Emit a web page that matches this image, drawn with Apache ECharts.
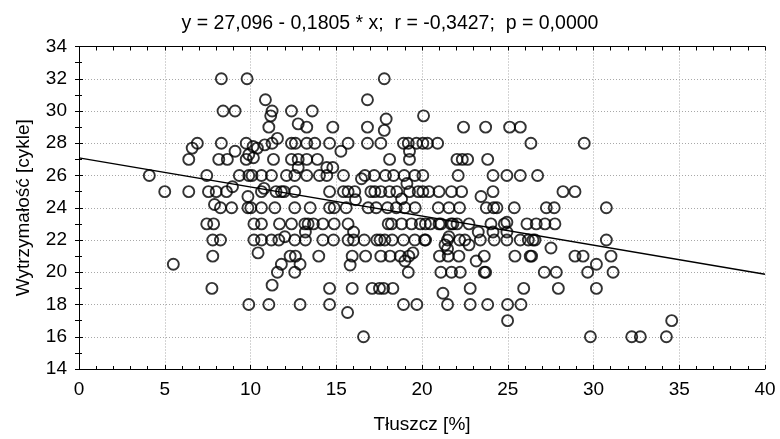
<!DOCTYPE html>
<html>
<head>
<meta charset="utf-8">
<script src="https://cdn.jsdelivr.net/npm/echarts@6/dist/echarts.min.js"></script>
<style>html,body{margin:0;padding:0;background:#fff}#c{width:780px;height:439px}</style>
</head>
<body>
<div id="c"></div>
<script>
// Tłuszcz [%] (x) and Wytrzymałość [cykle] (y)
const fatPct = [
8.3,9.8,8.4,9.1,6.9,6.6,6.4,8.3,9.75,9.1,8.15,8.65,9.75,9.9,4.1,7.45,9.35,9.9,5.0,6.4,7.55,8.0,8.6,8.95,9.85,7.9,8.25,8.9,9.85,7.45,7.85,7.8,8.25,7.8,5.5,7.75,9.9,
17.8,10.87,16.82,11.26,11.18,12.39,13.6,17.91,12.78,11.07,13.28,14.8,16.82,17.8,
10.15,10.4,10.83,11.26,11.57,12.39,12.62,13.28,13.75,14.61,15.27,15.69,16.82,17.6,18.92,19.2,19.68,20.05,20.32,20.91,
10.17,11.34,12.39,12.78,13.28,13.9,12.78,14.45,14.8,18.11,19.27,19.27,
10.09,10.64,11.22,12.1,12.58,13.28,14.02,14.45,15.42,16.47,16.67,17.21,17.87,18.34,18.96,19.58,19.12,
10.64,10.79,11.49,11.8,11.96,12.58,14.61,15.42,15.69,16.08,16.12,17.02,17.25,17.6,18.11,18.53,18.81,19.27,19.78,
10.02,10.64,11.42,12.58,13.48,14.61,14.88,15.58,16.86,17.33,17.99,18.5,19.0,19.6,
20.09,22.42,23.71,25.11,25.73,26.35,29.46,22.04,22.35,22.66,23.83,
20.05,22.11,24.14,24.95,25.73,26.74,
20.05,20.4,20.99,21.72,22.31,23.44,24.14,28.22,28.92,
20.95,21.57,22.19,23.75,24.18,24.37,25.38,27.25,27.71,
10.2,10.64,11.69,12.39,13.17,13.36,13.67,14.22,14.88,15.69,18.03,18.22,18.81,19.39,19.9,
13.2,16.01,
10.2,10.64,11.22,11.65,12.0,12.58,13.2,14.22,14.84,15.69,16.01,16.63,17.37,17.56,17.83,18.26,18.92,19.58,20.15,
10.44,
12.31,12.62,13.98,15.93,16.71,17.6,18.14,18.73,19.23,19.47,
11.8,12.89,15.81,19.0,11.57,12.58,19.2,11.26,
14.61,15.93,17.09,17.52,17.76,18.3,
11.07,12.89,14.61,18.92,19.7,
15.66,16.59,
20.2,20.48,20.99,21.1,21.69,21.8,22.04,22.74,24.02,24.8,24.95,26.12,26.66,27.17,27.75,
23.28,24.14,24.95,
20.21,21.49,21.57,22.19,22.5,22.74,23.4,24.21,24.95,25.73,26.2,26.47,26.59,
27.52,21.34,21.49,
21.02,21.53,22.15,23.16,23.63,25.42,26.31,26.39,28.92,29.39,
21.1,21.72,22.23,23.63,23.71,27.13,27.83,29.66,
21.22,22.81,25.93,27.95,
21.49,22.81,23.83,24.99,25.77,
24.99,
30.75,30.75,31.02,30.17,31.14,30.17,34.56,29.82,32.23,32.73,34.25
];
const cycles = [
32,32,30,30,28,27.7,27,28,28,27.5,27,27,27,27.3,26,26,26,26,25,25,25,25,25,25.3,24.7,24.2,24,24,24,23,23,22,22,21,20.5,19,18,
32,30.7,30.7,30,29.7,30,30,29.5,29.2,29,29,29,29,28.8,
27.8,27.7,27.9,28,28.3,28,28,28,28,28,27.5,28,28,28,28,28,28,28,28,28,
27.1,27,27,27,27,27,26.5,26.5,26.5,27,27.5,27,
26,26,26,26,26,26,26,26,26,25.8,26,26,26,26,26,26,25.5,
25,25.2,25,25,25,25,25,25,25,25,24.5,25,25,25,25,25,24.55,25,25,
24,24,24,24,24,24,24,24,24,24,24,24,24,24,
29.7,29,29,29,29,28,28,27,27,27,27,
26,26,26,26,26,26,
25,25,25,25,25,24.7,25,25,25,
24,24,24,24,24,24,24,24,24,
23,23,23,23,23,23,23,23,23,23,23,23,23,23,23,
22.5,22.5,
22,22,22,22,22.2,22,22,22,22,22,22,22,22,22,22,22,22,22,22,
21.2,
21,21,21,21,21,21,21,21,21,21.2,
20.5,20.5,20.45,20.7,20,20,20,19.2,
19,19,19,19,19,19,
18,18,18,18,18,
17.5,16,
23,23,23,23,23,23,23,23,23,23,23.1,23,23,23,23,
22.5,22.5,22.5,
22,22,22.2,22,22,21.7,22,22,22,22,22,22,22,
21.5,21.7,21.45,
21,21,21,20.7,21,21,21,21,21,21,
20,20,20,20,20,20,20,20,
18.7,19,19,19,
18,18,18,18,18,
17,
24,22,21,20.5,20,19,17,16,16,16,16
];
const xTicks = [0, 5, 10, 15, 20, 25, 30, 35, 40];
const yTicks = [14, 16, 18, 20, 22, 24, 26, 28, 30, 32, 34];
const intercept = 27.096;
const slope = -0.1805;
const titleText = 'y = 27,096 - 0,1805 * x;  r = -0,3427;  p = 0,0000';

const points = fatPct.map((x, i) => [x, cycles[i]]);
const xMin = xTicks[0], xMax = xTicks[xTicks.length - 1];
const regLine = [[xMin, intercept + slope * xMin], [xMax, intercept + slope * xMax]];

const font = 'Liberation Sans, Arial, sans-serif';
const chart = echarts.init(document.getElementById('c'), null, {renderer: 'canvas'});
const grid = {left: 79, right: 15, top: 46.5, bottom: 69.5, containLabel: false};
chart.setOption({
  animation: false,
  backgroundColor: '#fff',
  title: {text: titleText, left: 'center', top: 9,
    textStyle: {fontFamily: font, fontSize: 19.5, fontWeight: 'normal', color: '#000'}},
  grid: grid,
  xAxis: [{
    type: 'value', min: xMin, max: xMax, interval: 5, position: 'bottom',
    name: 'Tłuszcz [%]', nameLocation: 'middle', nameGap: 46,
    nameTextStyle: {fontFamily: font, fontSize: 19, color: '#000'},
    axisLine: {lineStyle: {color: '#000', width: 1}},
    axisTick: {inside: true, length: 4, lineStyle: {color: '#000'}},
    minorTick: {show: true, splitNumber: 5, length: 3, lineStyle: {color: '#000'}},
    axisLabel: {fontFamily: font, fontSize: 19, color: '#000', margin: 11},
    splitLine: {show: true, lineStyle: {color: '#a8a8a8', type: [1, 2], width: 1}}
  }, {
    type: 'value', min: xMin, max: xMax, interval: 1, position: 'top',
    axisLine: {show: true, lineStyle: {color: '#000', width: 1}},
    axisTick: {show: true, inside: true, length: 4, lineStyle: {color: '#000'}},
    axisLabel: {show: false}, splitLine: {show: false}
  }],
  yAxis: [{
    type: 'value', min: 14, max: 34, interval: 2, position: 'left',
    name: 'Wytrzymałość [cykle]', nameLocation: 'middle', nameGap: 46,
    nameTextStyle: {fontFamily: font, fontSize: 19, color: '#000'},
    axisLine: {show: true, lineStyle: {color: '#000', width: 1}},
    axisTick: {show: true, inside: true, length: 4, lineStyle: {color: '#000'}},
    minorTick: {show: true, splitNumber: 2, length: 3, lineStyle: {color: '#000'}},
    axisLabel: {fontFamily: font, fontSize: 19, color: '#000', margin: 12},
    splitLine: {show: true, lineStyle: {color: '#a8a8a8', type: [1, 2], width: 1}}
  }, {
    type: 'value', min: 14, max: 34, interval: 1, position: 'right',
    axisLine: {show: true, lineStyle: {color: '#000', width: 1}},
    axisTick: {show: true, inside: true, length: 4, lineStyle: {color: '#000'}},
    axisLabel: {show: false}, splitLine: {show: false}
  }],
  series: [{
    type: 'scatter', data: points, symbol: 'circle', symbolSize: 11,
    itemStyle: {color: 'rgba(0,0,0,0)', borderColor: '#000', borderWidth: 1.9},
    z: 3
  }, {
    type: 'line', data: regLine, symbol: 'none', silent: true,
    lineStyle: {color: '#000', width: 1.4}, z: 4
  }]
});
</script>
</body>
</html>
